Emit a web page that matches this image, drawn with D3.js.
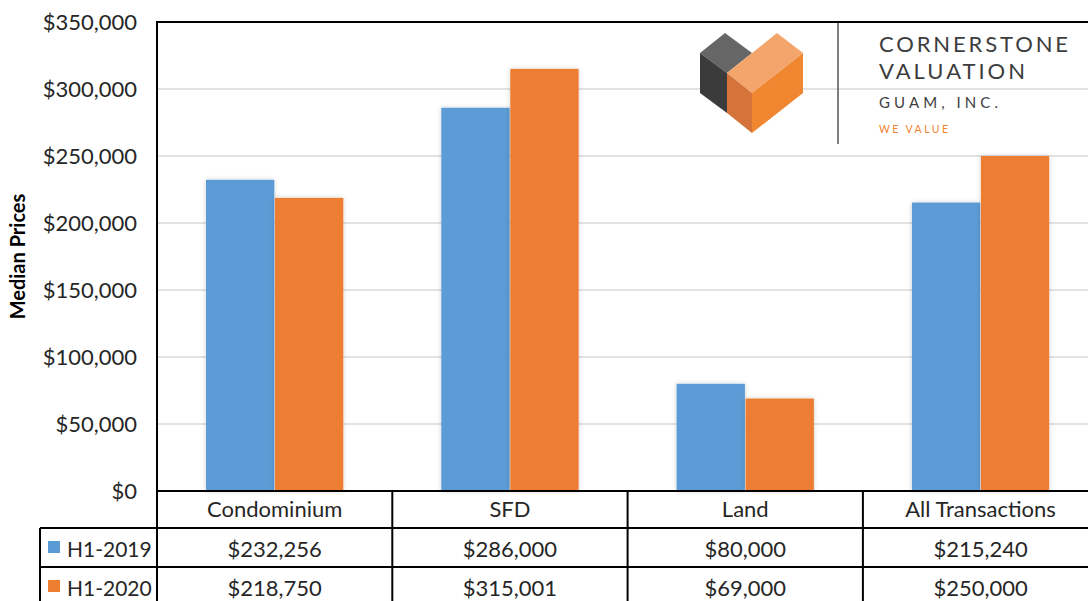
<!DOCTYPE html>
<html>
<head>
<meta charset="utf-8">
<script src="https://cdn.jsdelivr.net/npm/d3@7"></script>
<style>
  body { margin: 0; background: #fff; }
  svg { display: block; font-family: Lato, "Open Sans", sans-serif; }
</style>
</head>
<body>
<svg id="chart" width="1088" height="601"></svg>
<script>
// data
const categories = ["Condominium", "SFD", "Land", "All Transactions"]
const seriesNames = ["H1-2019", "H1-2020"]
const h1_2019 = [232256, 286000, 80000, 215240]
const h1_2020 = [218750, 315001, 69000, 250000]
const yTicks = [0, 50000, 100000, 150000, 200000, 250000, 300000, 350000]
const colors = ["#5b9bd5", "#ed7d31"]

const svg = d3.select("#chart")
const margin = ({ top: 22, left: 157, bottom: 491 })
const catWidth = 235.3

const x = d3.scaleBand()
    .domain(categories)
    .range([margin.left, margin.left + catWidth * categories.length])
    .paddingInner(0)
    .paddingOuter(0)

const xs = d3.scaleBand()
    .domain(seriesNames)
    .range([49, catWidth - 49])
    .paddingInner(0.01)

const y = d3.scaleLinear()
    .domain([0, 350000])
    .range([margin.bottom, margin.top])

const fmt = d3.format("$,")

// shadow for bars
const defs = svg.append("defs")
defs.append("filter").attr("id", "shadow")
    .attr("x", "-20%").attr("y", "-20%").attr("width", "140%").attr("height", "140%")
  .append("feDropShadow")
    .attr("dx", 0).attr("dy", 0).attr("stdDeviation", 2.5)
    .attr("flood-color", "#000").attr("flood-opacity", 0.18)

// gridlines
svg.append("g")
  .selectAll("line")
  .data(yTicks.filter(d => d > 0 && d < 350000))
  .join("line")
    .attr("x1", margin.left).attr("x2", 1088)
    .attr("y1", d => y(d)).attr("y2", d => y(d))
    .attr("stroke", "#d9d9d9").attr("stroke-width", 1.5)

// y axis labels
const yAxis = g => g
    .attr("transform", `translate(${margin.left},0)`)
    .call(d3.axisLeft(y).tickValues(yTicks).tickFormat(fmt).tickSize(0).tickPadding(20))
    .call(g => g.select(".domain").remove())
    .call(g => g.selectAll("text")
        .attr("font-size", 22).attr("fill", "#262626")
        .attr("font-family", "Lato, sans-serif"))
svg.append("g").call(yAxis)

svg.append("text")
    .attr("transform", `translate(25,${(margin.top + margin.bottom) / 2}) rotate(-90)`)
    .attr("text-anchor", "middle")
    .attr("font-size", 20).attr("font-weight", "bold").attr("fill", "#000")
    .text("Median Prices")

// logo (behind bars, on top of gridlines)
const logo = svg.append("g")
logo.append("polygon").attr("points", "700,53 725,33 752,53 727,73").attr("fill", "#666666")
logo.append("polygon").attr("points", "700,53 727,73 727,113 700,93").attr("fill", "#3b3b3b")
logo.append("polygon").attr("points", "727,73 777,33 803,53 752,93").attr("fill", "#f3a56c")
logo.append("polygon").attr("points", "727,73 752,93 752,133 727,113").attr("fill", "#d4743a")
logo.append("polygon").attr("points", "752,93 803,53 803,93 752,133").attr("fill", "#f0862f")
logo.append("line").attr("x1", 838).attr("x2", 838).attr("y1", 22).attr("y2", 144)
    .attr("stroke", "#555").attr("stroke-width", 1.5)
const logoText = [
    { t: "CORNERSTONE", y: 52, size: 22, len: 189, fill: "#3d3d3d" },
    { t: "VALUATION", y: 79, size: 22, len: 146, fill: "#3d3d3d" },
    { t: "GUAM, INC.", y: 108, size: 15, len: 119, fill: "#3d3d3d" },
    { t: "WE VALUE", y: 133, size: 10.5, len: 69, fill: "#f0832f" }
]
logo.selectAll("text.logo")
  .data(logoText)
  .join("text")
    .attr("class", "logo")
    .attr("x", 879).attr("y", d => d.y)
    .attr("font-family", "Lato, sans-serif")
    .attr("font-size", d => d.size).attr("fill", d => d.fill)
    .attr("textLength", d => d.len).attr("lengthAdjust", "spacing")
    .text(d => d.t)

// bars
const groups = svg.append("g")
  .selectAll("g")
  .data(categories.map((c, i) => ({ cat: c, vals: [h1_2019[i], h1_2020[i]] })))
  .join("g")
    .attr("transform", d => `translate(${x(d.cat)},0)`)

groups.selectAll("rect")
  .data(d => d.vals.map((v, j) => ({ key: seriesNames[j], v: v, j: j })))
  .join("rect")
    .attr("x", d => xs(d.key))
    .attr("width", xs.bandwidth())
    .attr("y", d => y(d.v))
    .attr("height", d => y(0) - y(d.v))
    .attr("fill", d => colors[d.j])
    .attr("filter", "url(#shadow)")

// plot frame
svg.append("path")
    .attr("d", `M${margin.left},${margin.bottom}V${margin.top}H1090`)
    .attr("fill", "none").attr("stroke", "#000").attr("stroke-width", 2)

// data table
const rowY = [491, 528, 567, 606]
const tableLeft = 40
const tableRight = margin.left + catWidth * categories.length
const table = svg.append("g")

// horizontal lines
table.append("line").attr("x1", margin.left).attr("x2", tableRight)
    .attr("y1", rowY[0]).attr("y2", rowY[0])
table.selectAll("line.h")
  .data(rowY.slice(1))
  .join("line").attr("class", "h")
    .attr("x1", tableLeft).attr("x2", tableRight)
    .attr("y1", d => d).attr("y2", d => d)
// vertical lines
table.selectAll("line.v")
  .data(categories)
  .join("line").attr("class", "v")
    .attr("x1", d => x(d)).attr("x2", d => x(d))
    .attr("y1", rowY[0]).attr("y2", rowY[3])
table.append("line").attr("x1", tableLeft).attr("x2", tableLeft)
    .attr("y1", rowY[1]).attr("y2", rowY[3])
table.selectAll("line").attr("stroke", "#000").attr("stroke-width", 2)

// header
table.selectAll("text.cat")
  .data(categories)
  .join("text").attr("class", "cat")
    .attr("x", d => x(d) + x.bandwidth() / 2)
    .attr("y", rowY[0] + 26)
    .attr("text-anchor", "middle")
    .attr("font-size", 22).attr("fill", "#262626")
    .text(d => d)

// rows
const rows = [h1_2019, h1_2020]
rows.forEach((vals, r) => {
    const yBase = rowY[r + 1] + 29
    table.selectAll(`text.val${r}`)
      .data(vals)
      .join("text").attr("class", `val${r}`)
        .attr("x", (d, i) => x(categories[i]) + x.bandwidth() / 2)
        .attr("y", yBase)
        .attr("text-anchor", "middle")
        .attr("font-size", 22).attr("fill", "#262626")
        .text(d => fmt(d))
    table.append("rect")
        .attr("x", 48).attr("y", rowY[r + 1] + 13)
        .attr("width", 12).attr("height", 12)
        .attr("fill", colors[r])
    table.append("text")
        .attr("x", 67).attr("y", yBase)
        .attr("font-size", 21).attr("fill", "#262626")
        .text(seriesNames[r])
})
</script>
</body>
</html>
